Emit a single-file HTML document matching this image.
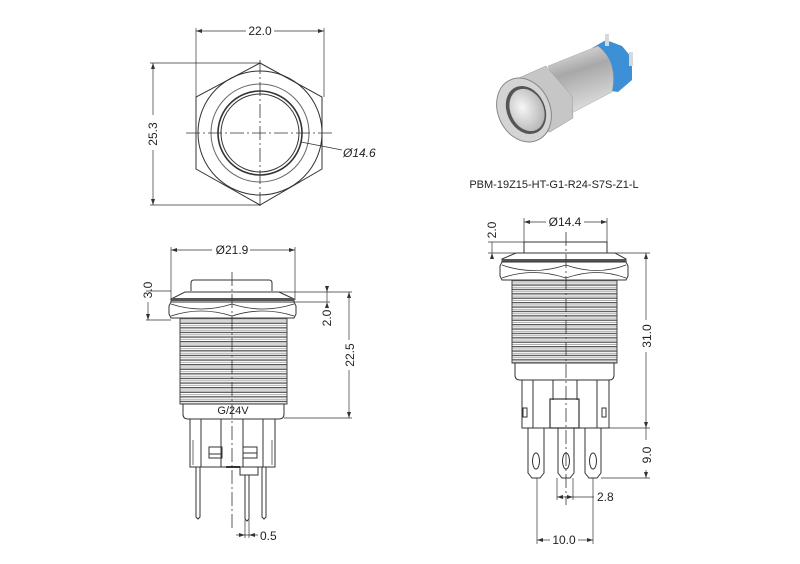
<!DOCTYPE html>
<html><head><meta charset="utf-8"><style>
html,body{margin:0;padding:0;background:#fff;}
svg{display:block;font-family:"Liberation Sans",sans-serif;}
</style></head><body>
<svg width="800" height="564" viewBox="0 0 800 564" xmlns="http://www.w3.org/2000/svg">
<defs>
<pattern id="thr" x="0" y="318" width="10" height="4.6" patternUnits="userSpaceOnUse">
<rect width="10" height="4.6" fill="#fff"/>
<rect y="0" width="10" height="1.3" fill="#555"/>
<rect y="2.6" width="10" height="0.8" fill="#999"/>
</pattern>
<pattern id="thr2" x="0" y="280" width="10" height="4.4" patternUnits="userSpaceOnUse">
<rect width="10" height="4.4" fill="#fff"/>
<rect y="0" width="10" height="1.3" fill="#555"/>
<rect y="2.5" width="10" height="0.8" fill="#999"/>
</pattern>
<radialGradient id="btn" cx="0.4" cy="0.4" r="0.7"><stop offset="0" stop-color="#f6f6f6"/><stop offset="1" stop-color="#b0b0b0"/></radialGradient>
<linearGradient id="body" x1="0" y1="0" x2="0.3" y2="1"><stop offset="0" stop-color="#eeeeee"/><stop offset="0.45" stop-color="#a8a8a8"/><stop offset="1" stop-color="#dcdcdc"/></linearGradient>
</defs>
<g fill="none" stroke="#333" stroke-width="1">
<!-- TOP VIEW -->
<polygon points="260,63 322,97 322,169 260,205 196,169 196,97"/>
<circle cx="260" cy="133" r="62"/>
<circle cx="260" cy="133" r="49" stroke="#666"/>
<circle cx="260" cy="133" r="42" stroke-width="1.6"/>
<circle cx="260" cy="133" r="39"/>
<line x1="186" y1="133" x2="334" y2="133" stroke-dasharray="14,3,2,3" stroke-width="0.8"/>
<line x1="260" y1="60" x2="260" y2="208" stroke-dasharray="14,3,2,3" stroke-width="0.8"/>
<line x1="196" y1="28" x2="196" y2="97" stroke-width="0.7"/>
<line x1="324" y1="28" x2="324" y2="97" stroke-width="0.7"/>
<line x1="196" y1="31" x2="246" y2="31" stroke-width="0.7"/><line x1="274" y1="31" x2="324" y2="31" stroke-width="0.7"/>
<line x1="150" y1="63" x2="260" y2="63" stroke-width="0.7"/>
<line x1="150" y1="205" x2="260" y2="205" stroke-width="0.7"/>
<line x1="153" y1="63" x2="153" y2="115" stroke-width="0.7"/><line x1="153" y1="150" x2="153" y2="205" stroke-width="0.7"/>
<line x1="301" y1="142" x2="342" y2="150" stroke-width="0.7"/>

<!-- LEFT SIDE VIEW -->
<path d="M191,291 L191,283 Q191,280 194,280 L269,280 Q272,280 272,283 L272,291"/>
<path d="M185,292 L279,292 L294,299 L294,302 L171,302 L171,299 Z"/>
<rect x="171" y="298" width="123" height="3" fill="#555" stroke="none"/>
<path d="M171,302 L294,302 L296,306 L296,314 L294,318 L171,318 L169,314 L169,306 Z"/>
<path d="M171,304 Q201,314 232,304 Q263,314 294,304" stroke-width="0.8"/>
<path d="M171,316 Q201,306 232,316 Q263,306 294,316" stroke-width="0.8"/>
<rect x="180" y="318" width="107" height="86" fill="url(#thr)" stroke="#444"/>
<path d="M183,404 L284,404 L284,414 Q284,419 279,419 L188,419 Q183,419 183,414 Z"/>
<rect x="190" y="419" width="85" height="48"/>
<line x1="201" y1="419" x2="201" y2="467"/><line x1="221" y1="419" x2="221" y2="467"/>
<line x1="243" y1="419" x2="243" y2="467"/><line x1="263" y1="419" x2="263" y2="467"/>
<line x1="193" y1="440" x2="193" y2="465" stroke-width="0.7"/><line x1="272" y1="440" x2="272" y2="465" stroke-width="0.7"/>
<rect x="209" y="447" width="13" height="11"/><line x1="209" y1="454" x2="222" y2="454"/>
<rect x="243" y="447" width="14" height="11"/><line x1="243" y1="453" x2="257" y2="453"/>
<rect x="240" y="467" width="18" height="8"/>
<line x1="226" y1="467" x2="240" y2="467" stroke-width="2"/>
<path d="M196,467 L196,517 L198,519 L200,517 L200,467"/>
<path d="M245,475 L245,519 L247,521 L249,519 L249,475"/>
<path d="M262,467 L262,517 L264,519 L266,517 L266,467"/>
<line x1="232" y1="272" x2="232" y2="530" stroke-dasharray="14,3,2,3" stroke-width="0.8"/>
<!-- dims left -->
<line x1="171" y1="247" x2="171" y2="300" stroke-width="0.7"/><line x1="295" y1="247" x2="295" y2="300" stroke-width="0.7"/>
<line x1="171" y1="250" x2="212" y2="250" stroke-width="0.7"/><line x1="250" y1="250" x2="295" y2="250" stroke-width="0.7"/>
<line x1="146" y1="291" x2="171" y2="291" stroke-width="0.7"/><line x1="146" y1="320" x2="171" y2="320" stroke-width="0.7"/>
<line x1="148" y1="302" x2="148" y2="320" stroke-width="0.7"/>
<line x1="279" y1="292" x2="352" y2="292" stroke-width="0.7"/>
<line x1="294" y1="302" x2="330" y2="302" stroke-width="0.7"/>
<line x1="327" y1="286" x2="327" y2="302" stroke-width="0.7"/>
<line x1="284" y1="418" x2="352" y2="418" stroke-width="0.7"/>
<line x1="349" y1="292" x2="349" y2="340" stroke-width="0.7"/><line x1="349" y1="370" x2="349" y2="418" stroke-width="0.7"/>
<line x1="245" y1="520" x2="245" y2="538" stroke-width="0.7"/><line x1="249" y1="520" x2="249" y2="538" stroke-width="0.7"/>
<line x1="236" y1="535" x2="258" y2="535" stroke-width="0.7"/>

<!-- RIGHT SIDE VIEW -->
<path d="M524,253 L524,242 L607,242 L607,253"/>
<path d="M516,253 L615,253 L626,259 L626,262 L502,262 L502,259 Z"/>
<rect x="502" y="259" width="124" height="3" fill="#555" stroke="none"/>
<path d="M502,262 L626,262 L628,266 L628,276 L626,280 L502,280 L500,276 L500,266 Z"/>
<path d="M502,265 Q533,276 566,265 Q597,276 626,265" stroke-width="0.8"/>
<path d="M502,278 Q533,267 566,278 Q597,267 626,278" stroke-width="0.8"/>
<rect x="512" y="280" width="105" height="83" fill="url(#thr2)" stroke="#444"/>
<path d="M515,363 L614,363 L614,375 Q614,380 609,380 L520,380 Q515,380 515,375 Z"/>
<rect x="522" y="380" width="87" height="48"/>
<line x1="533" y1="380" x2="533" y2="428"/><line x1="553" y1="380" x2="553" y2="400"/>
<line x1="577" y1="380" x2="577" y2="400"/><line x1="597" y1="380" x2="597" y2="428"/>
<rect x="550" y="399" width="29" height="29" stroke-width="1.2"/>
<rect x="523" y="408" width="4" height="9"/><rect x="602" y="408" width="4" height="9"/>
<line x1="609" y1="428" x2="650" y2="428" stroke-width="0.7"/>
<path d="M528,428 L528,473 L532,478 L540,478 L544,473 L544,428"/>
<path d="M558,428 L558,473 L562,478 L570,478 L574,473 L574,428"/>
<path d="M585,428 L585,473 L589,478 L597,478 L601,473 L601,428"/>
<ellipse cx="536" cy="461" rx="3.5" ry="8"/><ellipse cx="566" cy="461" rx="3.5" ry="8"/><ellipse cx="593" cy="461" rx="3.5" ry="8"/>
<line x1="566" y1="232" x2="566" y2="505" stroke-dasharray="14,3,2,3" stroke-width="0.8"/>
<!-- dims right -->
<line x1="524" y1="218" x2="524" y2="242" stroke-width="0.7"/><line x1="607" y1="218" x2="607" y2="242" stroke-width="0.7"/>
<line x1="524" y1="222" x2="546" y2="222" stroke-width="0.7"/><line x1="584" y1="222" x2="607" y2="222" stroke-width="0.7"/>
<line x1="488" y1="242" x2="524" y2="242" stroke-width="0.7"/><line x1="488" y1="253" x2="516" y2="253" stroke-width="0.7"/>
<line x1="492" y1="242" x2="492" y2="259" stroke-width="0.7"/>
<line x1="615" y1="253" x2="650" y2="253" stroke-width="0.7"/>
<line x1="646" y1="253" x2="646" y2="320" stroke-width="0.7"/><line x1="646" y1="352" x2="646" y2="428" stroke-width="0.7"/>
<line x1="601" y1="478" x2="650" y2="478" stroke-width="0.7"/>
<line x1="646" y1="428" x2="646" y2="440" stroke-width="0.7"/><line x1="646" y1="470" x2="646" y2="478" stroke-width="0.7"/>
<line x1="557" y1="478" x2="557" y2="500" stroke-width="0.7"/><line x1="573" y1="478" x2="573" y2="500" stroke-width="0.7"/>
<line x1="557" y1="497" x2="594" y2="497" stroke-width="0.7"/>
<line x1="537" y1="478" x2="537" y2="544" stroke-width="0.7"/><line x1="593" y1="478" x2="593" y2="544" stroke-width="0.7"/>
<line x1="537" y1="540" x2="550" y2="540" stroke-width="0.7"/><line x1="578" y1="540" x2="593" y2="540" stroke-width="0.7"/>
</g>
<g fill="#333">
<path d="M196,31 l6,-2 v4z M324,31 l-6,-2 v4z M153,63 l-2,6 h4z M153,205 l-2,-6 h4z"/>
<path d="M171,250 l6,-2 v4z M295,250 l-6,-2 v4z M148,320 l-2,-6 h4z M327,292 l-2,-6 h4z M327,302 l-2,6 h4z M349,292 l-2,6 h4z M349,418 l-2,-6 h4z M245,535 l-6,-2 v4z M249,535 l6,-2 v4z"/>
<path d="M524,222 l6,-2 v4z M607,222 l-6,-2 v4z M492,253 l-2,6 h4z M646,253 l-2,6 h4z M646,428 l-2,-6 h4z M646,478 l-2,-6 h4z M557,497 l6,-2 v4z M573,497 l-6,-2 v4z M537,540 l6,-2 v4z M593,540 l-6,-2 v4z"/>
</g>
<g font-size="12" fill="#222">
<text x="260" y="35" text-anchor="middle">22.0</text>
<text x="157" y="134" text-anchor="middle" transform="rotate(-90 157 134)">25.3</text>
<text x="343" y="157" font-style="italic">Ø14.6</text>
<text x="232" y="254" text-anchor="middle">Ø21.9</text>
<text x="152" y="290" text-anchor="middle" transform="rotate(-90 152 290)">3.0</text>
<text x="331" y="318" text-anchor="middle" transform="rotate(-90 331 318)">2.0</text>
<text x="354" y="355" text-anchor="middle" transform="rotate(-90 354 355)">22.5</text>
<text x="233" y="414" text-anchor="middle" font-size="11">G/24V</text>
<text x="260" y="540">0.5</text>
<text x="565" y="226" text-anchor="middle">Ø14.4</text>
<text x="496" y="230" text-anchor="middle" transform="rotate(-90 496 230)">2.0</text>
<text x="651" y="336" text-anchor="middle" transform="rotate(-90 651 336)">31.0</text>
<text x="651" y="455" text-anchor="middle" transform="rotate(-90 651 455)">9.0</text>
<text x="597" y="501">2.8</text>
<text x="564" y="544" text-anchor="middle">10.0</text>
<text x="554" y="188" text-anchor="middle" font-size="11">PBM-19Z15-HT-G1-R24-S7S-Z1-L</text>
</g>
<!-- PHOTO -->
<g>
<path d="M592,48 L606,40 L622,46 L632,58 L632,80 L618,92 L604,90 Z" fill="#3d8fd6"/>
<rect x="605" y="34" width="4" height="12" fill="#d8d8d8"/><rect x="629" y="52" width="4" height="14" fill="#d8d8d8"/>
<path d="M548,66 L598,46 Q618,62 612,92 L570,114 Z" fill="url(#body)" stroke="#aaa" stroke-width="0.5"/>
<path d="M505,84 L546,66 L572,96 L573,118 L550,132 L520,130 Z" fill="#c6c6c6" stroke="#999" stroke-width="0.5"/>
<ellipse cx="524" cy="110" rx="26" ry="33" transform="rotate(-25 524 110)" fill="#d4d4d4" stroke="#888"/>
<ellipse cx="526" cy="110" rx="19" ry="25" transform="rotate(-25 526 110)" fill="#555"/>
<ellipse cx="527" cy="110" rx="16.5" ry="22" transform="rotate(-25 527 110)" fill="url(#btn)"/>
</g>
</svg>
</body></html>
